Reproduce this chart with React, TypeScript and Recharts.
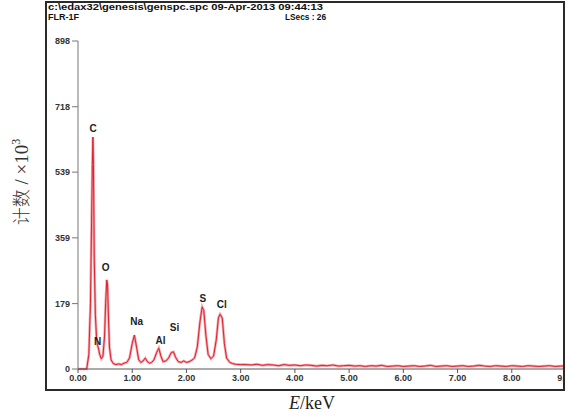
import { Line, LineChart, ReferenceDot, XAxis, YAxis } from "recharts";

const energies = [
  0, 0.1, 0.16, 0.2, 0.23, 0.25, 0.265, 0.275, 0.285, 0.3, 0.32, 0.34, 0.36, 0.38, 0.4, 0.43, 0.46, 0.49,
  0.51, 0.53, 0.545, 0.56, 0.58, 0.61, 0.65, 0.7, 0.75, 0.8, 0.85, 0.9, 0.95, 1.0, 1.04, 1.08, 1.12, 1.16,
  1.2, 1.24, 1.28, 1.32, 1.36, 1.4, 1.45, 1.49, 1.53, 1.57, 1.62, 1.67, 1.72, 1.76, 1.8, 1.85, 1.9, 1.95,
  2.0, 2.05, 2.1, 2.15, 2.2, 2.25, 2.29, 2.32, 2.36, 2.4, 2.45, 2.5, 2.55, 2.59, 2.62, 2.66, 2.7, 2.74,
  2.8, 2.85, 2.9, 3.0, 3.1, 3.2, 3.3, 3.4, 3.5, 3.6, 3.7, 3.8, 3.9, 4.0, 4.1, 4.2, 4.3, 4.4, 4.5, 4.6,
  4.7, 4.8, 4.9, 5.0, 5.1, 5.2, 5.3, 5.4, 5.5, 5.6, 5.7, 5.8, 5.9, 6.0, 6.1, 6.2, 6.3, 6.4, 6.5, 6.6,
  6.7, 6.8, 6.9, 7.0, 7.1, 7.2, 7.3, 7.4, 7.5, 7.6, 7.7, 7.8, 7.9, 8.0, 8.1, 8.2, 8.3, 8.4, 8.5, 8.6,
  8.7, 8.8, 8.9, 9.0,
];

const counts = [
  0, 0, 0, 40, 180, 400, 560, 635, 560, 300, 150, 90, 65, 55, 40, 28, 35, 90,
  180, 244, 230, 150, 60, 25, 15, 12, 14, 12, 16, 18, 30, 70, 93, 60, 25, 18,
  22, 30, 20, 16, 18, 25, 45, 57, 35, 20, 22, 30, 45, 47, 32, 20, 18, 22,
  18, 20, 24, 30, 60, 130, 170, 160, 90, 40, 28, 35, 80, 140, 150, 140, 70, 30,
  18, 15, 13, 12, 12, 11, 13, 10, 12, 11, 9, 12, 10, 11, 9, 11, 10, 8, 10, 9,
  11, 8, 9, 10, 8, 9, 7, 9, 8, 10, 7, 8, 9, 7, 8, 9, 7, 8, 10, 7,
  8, 9, 7, 8, 9, 7, 8, 10, 8, 7, 9, 8, 7, 9, 8, 7, 9, 8, 7, 8,
  9, 7, 8, 8,
];

const yTicks = [0, 179, 359, 539, 718, 898];
const xTicks = [0, 1, 2, 3, 4, 5, 6, 7, 8, 9];

const elements = ["C", "N", "O", "Na", "Al", "Si", "S", "Cl"];
const elementE = [0.28, 0.36, 0.51, 1.08, 1.52, 1.78, 2.3, 2.65];
const elementC = [658, 75, 277, 130, 79, 115, 192, 177];

const data = energies.map((e, i) => ({ e, c: counts[i] }));

const tickStyle = { fontSize: 9, fontWeight: 700, fill: "#333", fontFamily: "Liberation Sans, Arial, sans-serif" };

export default function App() {
  return (
    <div style={{ position: "absolute", left: 0, top: 0, width: 567, height: 420, background: "#fff" }}>
      <div
        style={{
          position: "absolute",
          left: 45,
          top: 1,
          width: 516,
          height: 386,
          border: "2px solid #2a2a2a",
          overflow: "hidden",
          background: "#fff",
        }}
      >
        <LineChart width={545} height={386} data={data} margin={{ top: 38, right: 26, bottom: 0, left: 0 }}>
          <XAxis
            dataKey="e"
            type="number"
            domain={[0, 9]}
            ticks={xTicks}
            tickFormatter={(v: number) => v.toFixed(2)}
            tick={tickStyle}
            tickSize={4}
            height={20}
            stroke="#555"
            interval={0}
          />
          <YAxis
            type="number"
            domain={[0, 898]}
            ticks={yTicks}
            tick={tickStyle}
            tickSize={6}
            width={31}
            stroke="#777"
            interval={0}
          />
          <Line dataKey="c" type="linear" stroke="#f3a3ab" strokeWidth={2.6} dot={false} isAnimationActive={false} />
          <Line dataKey="c" type="linear" stroke="#e0202e" strokeWidth={1} dot={false} isAnimationActive={false} />
          {elements.map((name, i) => (
            <ReferenceDot
              key={name}
              x={elementE[i]}
              y={elementC[i]}
              r={0}
              fill="none"
              stroke="none"
              label={{
                value: name,
                position: "center",
                fontSize: 10,
                fontWeight: 700,
                fill: "#222",
                fontFamily: "Liberation Sans, Arial, sans-serif",
              }}
            />
          ))}
        </LineChart>
      </div>
      <svg width={567} height={420} style={{ position: "absolute", left: 0, top: 0, pointerEvents: "none" }}>
        <g fontFamily="Liberation Sans, Arial, sans-serif" fontWeight={700} fontSize={9} fill="#111">
          <text x={48} y={10} textLength={275} lengthAdjust="spacingAndGlyphs">
            c:\edax32\genesis\genspc.spc  09-Apr-2013 09:44:13
          </text>
          <text x={48} y={20}>FLR-1F</text>
          <text x={285} y={20} textLength={41} lengthAdjust="spacingAndGlyphs">
            LSecs : 26
          </text>
        </g>
        <text
          transform="translate(28,182) rotate(-90)"
          textAnchor="middle"
          fontFamily="Noto Sans CJK SC, sans-serif"
          fontWeight={300}
          fontSize={18}
          fill="#333"
        >
          计数<tspan fontFamily="Liberation Serif, serif" fontSize={19}> / ×10</tspan>
          <tspan dy={-8} fontFamily="Liberation Serif, serif" fontSize={12}>3</tspan>
        </text>
        <text x={312} y={409} textAnchor="middle" fontFamily="Liberation Serif, serif" fontSize={18} fill="#222">
          <tspan fontStyle="italic">E</tspan>/keV
        </text>
      </svg>
    </div>
  );
}
